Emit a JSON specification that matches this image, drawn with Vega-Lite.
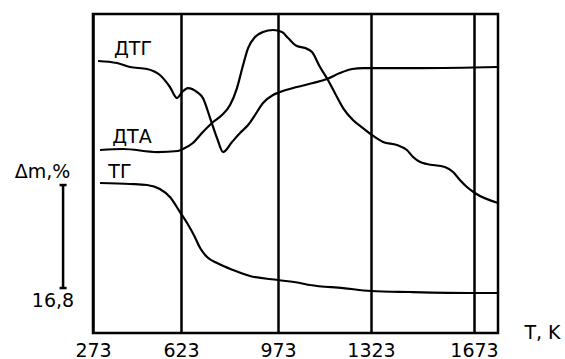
{
  "$schema": "https://vega.github.io/schema/vega-lite/v6.json",
  "width": 405,
  "height": 319,
  "autosize": {"type": "none"},
  "padding": {"left": 93, "top": 14, "right": 67, "bottom": 26},
  "background": "white",
  "config": {"view": {"stroke": "black", "strokeWidth": 2.5}, "font": "DejaVu Sans"},
  "datasets": {
    "curves": [
      {"curve": "DTG", "T": 293, "v": 44.34},
      {"curve": "DTG", "T": 368, "v": 44.01},
      {"curve": "DTG", "T": 420, "v": 43.36},
      {"curve": "DTG", "T": 488, "v": 43.03},
      {"curve": "DTG", "T": 539, "v": 42.05},
      {"curve": "DTG", "T": 579, "v": 40.10},
      {"curve": "DTG", "T": 607, "v": 38.30},
      {"curve": "DTG", "T": 627, "v": 39.28},
      {"curve": "DTG", "T": 648, "v": 39.93},
      {"curve": "DTG", "T": 681, "v": 39.28},
      {"curve": "DTG", "T": 702, "v": 38.30},
      {"curve": "DTG", "T": 728, "v": 35.04},
      {"curve": "DTG", "T": 753, "v": 31.78},
      {"curve": "DTG", "T": 775, "v": 29.50},
      {"curve": "DTG", "T": 807, "v": 31.13},
      {"curve": "DTG", "T": 836, "v": 32.60},
      {"curve": "DTG", "T": 865, "v": 33.90},
      {"curve": "DTG", "T": 890, "v": 35.53},
      {"curve": "DTG", "T": 919, "v": 37.49},
      {"curve": "DTG", "T": 955, "v": 38.79},
      {"curve": "DTG", "T": 981, "v": 39.28},
      {"curve": "DTG", "T": 1044, "v": 40.10},
      {"curve": "DTG", "T": 1105, "v": 40.75},
      {"curve": "DTG", "T": 1157, "v": 41.40},
      {"curve": "DTG", "T": 1206, "v": 42.38},
      {"curve": "DTG", "T": 1252, "v": 43.03},
      {"curve": "DTG", "T": 1293, "v": 43.19},
      {"curve": "DTG", "T": 1326, "v": 43.19},
      {"curve": "DTG", "T": 1490, "v": 43.19},
      {"curve": "DTG", "T": 1755, "v": 43.36},
      {"curve": "DTA", "T": 301, "v": 29.83},
      {"curve": "DTA", "T": 392, "v": 29.99},
      {"curve": "DTA", "T": 528, "v": 29.50},
      {"curve": "DTA", "T": 611, "v": 29.67},
      {"curve": "DTA", "T": 630, "v": 29.99},
      {"curve": "DTA", "T": 666, "v": 30.97},
      {"curve": "DTA", "T": 702, "v": 32.76},
      {"curve": "DTA", "T": 735, "v": 34.23},
      {"curve": "DTA", "T": 771, "v": 35.53},
      {"curve": "DTA", "T": 800, "v": 37.16},
      {"curve": "DTA", "T": 825, "v": 39.93},
      {"curve": "DTA", "T": 847, "v": 43.68},
      {"curve": "DTA", "T": 865, "v": 46.45},
      {"curve": "DTA", "T": 890, "v": 48.25},
      {"curve": "DTA", "T": 919, "v": 49.06},
      {"curve": "DTA", "T": 955, "v": 49.39},
      {"curve": "DTA", "T": 988, "v": 49.06},
      {"curve": "DTA", "T": 1011, "v": 48.08},
      {"curve": "DTA", "T": 1044, "v": 46.78},
      {"curve": "DTA", "T": 1075, "v": 46.45},
      {"curve": "DTA", "T": 1101, "v": 45.80},
      {"curve": "DTA", "T": 1131, "v": 43.36},
      {"curve": "DTA", "T": 1161, "v": 41.24},
      {"curve": "DTA", "T": 1187, "v": 39.12},
      {"curve": "DTA", "T": 1218, "v": 36.67},
      {"curve": "DTA", "T": 1255, "v": 34.72},
      {"curve": "DTA", "T": 1293, "v": 33.41},
      {"curve": "DTA", "T": 1326, "v": 32.27},
      {"curve": "DTA", "T": 1364, "v": 31.13},
      {"curve": "DTA", "T": 1411, "v": 30.64},
      {"curve": "DTA", "T": 1445, "v": 29.83},
      {"curve": "DTA", "T": 1466, "v": 28.69},
      {"curve": "DTA", "T": 1490, "v": 27.87},
      {"curve": "DTA", "T": 1513, "v": 27.55},
      {"curve": "DTA", "T": 1574, "v": 27.06},
      {"curve": "DTA", "T": 1602, "v": 26.24},
      {"curve": "DTA", "T": 1625, "v": 24.94},
      {"curve": "DTA", "T": 1649, "v": 23.80},
      {"curve": "DTA", "T": 1676, "v": 22.82},
      {"curve": "DTA", "T": 1755, "v": 21.19},
      {"curve": "TG", "T": 301, "v": 24.45},
      {"curve": "TG", "T": 420, "v": 24.29},
      {"curve": "TG", "T": 488, "v": 24.12},
      {"curve": "TG", "T": 539, "v": 23.47},
      {"curve": "TG", "T": 579, "v": 22.17},
      {"curve": "TG", "T": 619, "v": 19.72},
      {"curve": "TG", "T": 645, "v": 17.93},
      {"curve": "TG", "T": 673, "v": 15.65},
      {"curve": "TG", "T": 692, "v": 13.85},
      {"curve": "TG", "T": 717, "v": 12.39},
      {"curve": "TG", "T": 753, "v": 11.41},
      {"curve": "TG", "T": 811, "v": 10.27},
      {"curve": "TG", "T": 872, "v": 9.29},
      {"curve": "TG", "T": 973, "v": 8.64},
      {"curve": "TG", "T": 1056, "v": 8.15},
      {"curve": "TG", "T": 1093, "v": 7.82},
      {"curve": "TG", "T": 1218, "v": 7.33},
      {"curve": "TG", "T": 1323, "v": 6.85},
      {"curve": "TG", "T": 1455, "v": 6.68},
      {"curve": "TG", "T": 1673, "v": 6.52},
      {"curve": "TG", "T": 1755, "v": 6.52}
    ],
    "bar": [
      {"T": 154, "T2": 154, "v": 7.33, "v2": 24.12},
      {"T": 140, "T2": 168, "v": 24.12, "v2": 24.12},
      {"T": 140, "T2": 168, "v": 7.33, "v2": 7.33}
    ],
    "labels": [
      {"label": "ДТГ", "T": 432, "v": 46.37},
      {"label": "ДТА", "T": 428, "v": 31.95},
      {"label": "ТГ", "T": 380, "v": 26.32},
      {"label": "Δm,%", "T": 72, "v": 26.24},
      {"label": "16,8", "T": 114, "v": 5.22}
    ]
  },
  "layer": [
    {
      "data": {"name": "curves"},
      "mark": {"type": "line", "color": "black", "strokeWidth": 2.2, "interpolate": "monotone"},
      "encoding": {
        "x": {
          "field": "T",
          "type": "quantitative",
          "scale": {"domain": [273, 623, 973, 1323, 1673, 1755], "range": [0, 88, 185, 278, 381, 405], "nice": false, "zero": false},
          "axis": {
            "values": [273, 623, 973, 1323, 1673],
            "format": "d",
            "title": "T, K",
            "titleX": 449,
            "titleY": -1,
            "titleAlign": "center",
            "titleBaseline": "middle",
            "titleAngle": 0,
            "titleFont": "DejaVu Sans",
            "titleFontSize": 19,
            "titleFontWeight": "normal",
            "titleColor": "black",
            "labelFont": "DejaVu Sans",
            "labelFontSize": 19,
            "labelColor": "black",
            "labelPadding": 8,
            "labelBaseline": "top",
            "labelFlush": false,
            "labelOverlap": false,
            "ticks": false,
            "domain": false,
            "grid": true,
            "gridColor": "black",
            "gridWidth": 2.5,
            "gridOpacity": 1
          }
        },
        "y": {
          "field": "v",
          "type": "quantitative",
          "scale": {"domain": [0, 52], "nice": false, "zero": false},
          "axis": null
        },
        "detail": {"field": "curve"}
      }
    },
    {
      "data": {"name": "bar"},
      "mark": {"type": "rule", "color": "black", "strokeWidth": 2.5},
      "encoding": {
        "x": {"field": "T", "type": "quantitative"},
        "x2": {"field": "T2"},
        "y": {"field": "v", "type": "quantitative"},
        "y2": {"field": "v2"}
      }
    },
    {
      "data": {"name": "labels"},
      "mark": {"type": "text", "font": "DejaVu Sans", "fontSize": 19, "color": "black", "align": "center", "baseline": "middle"},
      "encoding": {
        "x": {"field": "T", "type": "quantitative"},
        "y": {"field": "v", "type": "quantitative"},
        "text": {"field": "label"}
      }
    }
  ]
}
